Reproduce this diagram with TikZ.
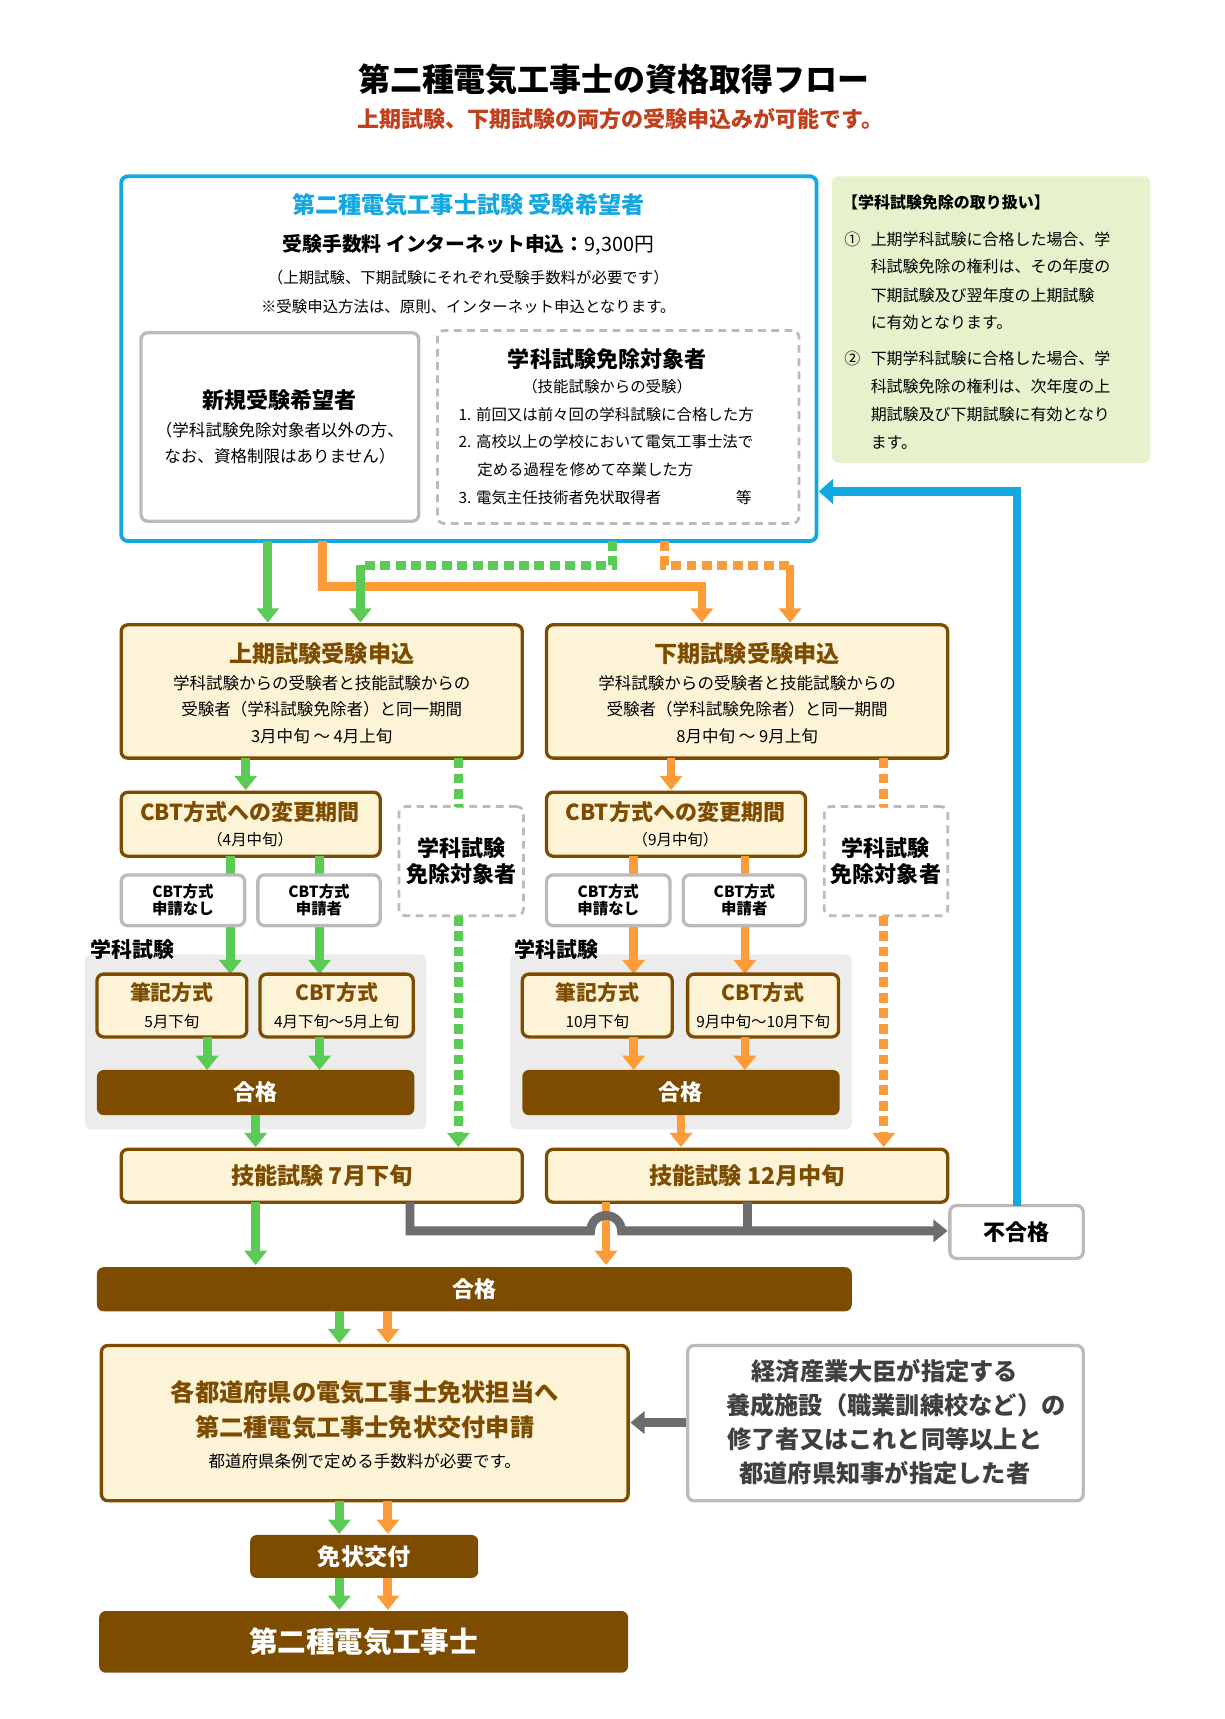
\documentclass[tikz,border=0pt]{standalone}
\usepackage{fontspec}
\setmainfont{Noto Sans CJK JP}
\usetikzlibrary{arrows.meta,fit,calc}
\definecolor{grn}{HTML}{5CCB55}
\definecolor{org}{HTML}{FB9C38}
\definecolor{brn}{HTML}{7E4C00}
\definecolor{crm}{HTML}{FDF4D8}
\definecolor{cyn}{HTML}{15A8E0}
\definecolor{redt}{HTML}{C0401E}
\definecolor{gry}{HTML}{BBBBBB}
\definecolor{dgry}{HTML}{6D6D6D}
\definecolor{lgrn}{HTML}{E5F2CC}
\definecolor{lgry}{HTML}{ECECEC}
\newcommand{\fs}[1]{\fontsize{#1}{#1}\selectfont}
\tikzset{
 fitbox/.style={inner sep=0pt, rounded corners=6pt},
 cbox/.style={fitbox, draw=brn, line width=3pt, fill=crm},
 gbox/.style={fitbox, draw=gry, line width=3pt, fill=white},
 dbox/.style={fitbox, draw=gry, line width=2.5pt, dash pattern=on 7pt off 5pt, fill=white},
 bbar/.style={fitbox, fill=brn},
 tx/.style={inner sep=0pt, anchor=center},
 ar/.style={line width=8pt, -{Triangle[width=20pt,length=13pt]}},
 ln/.style={line width=8pt},
 dt/.style={dash pattern=on 9pt off 5pt},
}
\begin{document}
\begin{tikzpicture}[x=1pt,y=-1pt]
\useasboundingbox (0,0) rectangle (1111,1560);
\fill[white] (0,0) rectangle (1111,1560);
% titles
\node[tx] (t1) at (557,72) {\fs{29}\bfseries 第二種電気工事士の資格取得フロー};
\node[tx,text=redt] (t2) at (563,108) {\fs{20}\bfseries 上期試験、下期試験の両方の受験申込みが可能です。};
% top blue box
\node[fitbox, draw=cyn, line width=3.5pt, fill=white, fit={(110,160)(741,491)}] (blue) {};
\node[tx,text=cyn] at (425,186) {\fs{21}\bfseries 第二種電気工事士試験 受験希望者};
\node[tx] at (425,222) {\fs{18}\bfseries 受験手数料 インターネット申込：\mdseries 9,300円};
\node[tx] at (425,252) {\fs{14}（上期試験、下期試験にそれぞれ受験手数料が必要です）};
\node[tx] at (425,278) {\fs{14}※受験申込方法は、原則、インターネット申込となります。};
\node[gbox, fit={(128,302)(380,473)}] (new) {};
\node[tx] at (254,363) {\fs{20}\bfseries 新規受験希望者};
\node[tx] at (254,390) {\fs{15}（学科試験免除対象者以外の方、};
\node[tx] at (254,414) {\fs{15}なお、資格制限はありません）};
\node[dbox, fit={(397,300)(725,475)}] (exm) {};
\node[tx] at (551,326) {\fs{20}\bfseries 学科試験免除対象者};
\node[tx] at (551,351) {\fs{14}（技能試験からの受験）};
\node[tx,anchor=west] at (416,376) {\fs{14}1. 前回又は前々回の学科試験に合格した方};
\node[tx,anchor=west] at (416,401) {\fs{14}2. 高校以上の学校において電気工事士法で};
\node[tx,anchor=west] at (433,426) {\fs{14}定める過程を修めて卒業した方};
\node[tx,anchor=west] at (416,452) {\fs{14}3. 電気主任技術者免状取得者};
\node[tx] at (675,452) {\fs{14}等};
% note
\node[fitbox, fill=lgrn, fit={(755,160)(1044,420)}] (note) {};
\begin{scope}[every node/.style={tx,anchor=west}]
\node at (764,184) {\fs{14.5}\bfseries 【学科試験免除の取り扱い】};
\node at (766,217) {\fs{14.5}①};
\node at (790,217) {\fs{14.5}上期学科試験に合格した場合、学};
\node at (790,242) {\fs{14.5}科試験免除の権利は、その年度の};
\node at (790,268) {\fs{14.5}下期試験及び翌年度の上期試験};
\node at (790,293) {\fs{14.5}に有効となります。};
\node at (766,325) {\fs{14.5}②};
\node at (790,325) {\fs{14.5}下期学科試験に合格した場合、学};
\node at (790,351) {\fs{14.5}科試験免除の権利は、次年度の上};
\node at (790,376) {\fs{14.5}期試験及び下期試験に有効となり};
\node at (790,402) {\fs{14.5}ます。};
\end{scope}
% application boxes
\node[cbox, fit={(110,567)(474,688)}] (ka) {};
\node[tx,text=brn] at (292,593) {\fs{21}\bfseries 上期試験受験申込};
\node[tx] at (292,620) {\fs{15}学科試験からの受験者と技能試験からの};
\node[tx] at (292,644) {\fs{15}受験者（学科試験免除者）と同一期間};
\node[tx] at (292,668) {\fs{15}3月中旬 〜 4月上旬};
\node[cbox, fit={(496,567)(860,688)}] (kb) {};
\node[tx,text=brn] at (678,593) {\fs{21}\bfseries 下期試験受験申込};
\node[tx] at (678,620) {\fs{15}学科試験からの受験者と技能試験からの};
\node[tx] at (678,644) {\fs{15}受験者（学科試験免除者）と同一期間};
\node[tx] at (678,668) {\fs{15}8月中旬 〜 9月上旬};
% grey regions
\node[fitbox, fill=lgry, fit={(77,866)(387,1025)}] (ra) {};
\node[fitbox, fill=lgry, fit={(463,866)(773,1025)}] (rb) {};
\node[tx,anchor=west] at (82,862) {\fs{19}\bfseries 学科試験};
\node[tx,anchor=west] at (467,862) {\fs{19}\bfseries 学科試験};
% CBT change
\node[cbox, fit={(110,719)(345,777)}] (ca) {};
\node[tx,text=brn] at (227,737) {\fs{20}\bfseries CBT方式への変更期間};
\node[tx] at (227,762) {\fs{14}（4月中旬）};
\node[cbox, fit={(496,719)(731,777)}] (cb) {};
\node[tx,text=brn] at (613,737) {\fs{20}\bfseries CBT方式への変更期間};
\node[tx] at (613,762) {\fs{14}（9月中旬）};
% lines through small boxes
\draw[ar,grn] (209,777) -- (209,884);
\draw[ar,grn] (290,777) -- (290,884);
\draw[ar,org] (575,777) -- (575,884);
\draw[ar,org] (676,777) -- (676,884);
\node[gbox, fit={(110,794)(222,840)}] (sa1) {};
\node[gbox, fit={(234,794)(345,840)}] (sa2) {};
\node[gbox, fit={(496,794)(608,840)}] (sb1) {};
\node[gbox, fit={(620,794)(731,840)}] (sb2) {};
\foreach \n/\t in {sa1/申請なし,sa2/申請者,sb1/申請なし,sb2/申請者}{
 \node[tx,align=center] at (\n) {\fs{14}\bfseries CBT方式\\[1pt]\fs{14}\bfseries \t};}
% exemption dashed boxes
\node[dbox, fit={(362,732)(475,831)}] (ea) {};
\node[tx,align=center] at (ea) {\fs{20}\bfseries 学科試験\\[4pt]\fs{20}\bfseries 免除対象者};
\node[dbox, fit={(748,732)(860,831)}] (eb) {};
\node[tx,align=center] at (eb) {\fs{20}\bfseries 学科試験\\[4pt]\fs{20}\bfseries 免除対象者};
% exam method boxes
\foreach \n/\a/\b/\ti/\d in {wa/88/224/筆記方式/5月下旬, xa/236/375/CBT方式/4月下旬〜5月上旬, wb/474/610/筆記方式/10月下旬, xb/624/761/CBT方式/9月中旬〜10月下旬}{
 \node[cbox, fit={(\a,884)(\b,941)}] (\n) {};
 \node[tx,text=brn] at ($(\n.north)!0.3!(\n.south)$) {\fs{19}\bfseries \ti};
 \node[tx] at ($(\n.north)!0.74!(\n.south)$) {\fs{14}\d};
}
\draw[ar,grn] (188,941) -- (188,971);
\draw[ar,grn] (290,941) -- (290,971);
\draw[ar,org] (575,941) -- (575,971);
\draw[ar,org] (676,941) -- (676,971);
\node[bbar, fit={(88,971)(376,1012)}] (pa) {};
\node[tx,text=white] at (pa) {\fs{20}\bfseries 合格};
\node[bbar, fit={(474,971)(762,1012)}] (pb) {};
\node[tx,text=white] at (pb) {\fs{20}\bfseries 合格};
% skill tests
\node[cbox, fit={(110,1043)(474,1091)}] (sa) {};
\node[tx,text=brn] at (sa) {\fs{21}\bfseries 技能試験 7月下旬};
\node[cbox, fit={(496,1043)(860,1091)}] (sb) {};
\node[tx,text=brn] at (sb) {\fs{21}\bfseries 技能試験 12月中旬};
\node[gbox, fit={(862,1094)(983,1142)}] (fail) {};
\node[tx] at (fail) {\fs{20}\bfseries 不合格};
% arrows upper
\draw[ar,grn] (243,491) -- (243,565);
\draw[ln,org] (293,491) -- (293,532) -- (637,532);
\draw[ar,org] (637,528) -- (637,565);
\draw[ln,grn,dt] (556,491) -- (556,513) -- (327,513);
\draw[ar,grn] (327,513) -- (327,565);
\draw[ln,org,dt] (603,491) -- (603,513) -- (717,513);
\draw[ar,org] (717,513) -- (717,565);
\draw[ar,grn] (223,688) -- (223,717);
\draw[ar,org] (609,688) -- (609,717);
\draw[ln,grn,dt] (416,688) -- (416,732);
\draw[ln,org,dt] (802,688) -- (802,732);
\draw[ar,grn,dt] (416,831) -- (416,1041);
\draw[ar,org,dt] (802,831) -- (802,1041);
\draw[ar,grn] (232,1012) -- (232,1041);
\draw[ar,org] (618,1012) -- (618,1041);
% big pass
\node[bbar, fit={(88,1150)(773,1190)}] (pass) {};
\node[tx,text=white] at (pass) {\fs{20}\bfseries 合格};
\draw[ar,grn] (232,1091) -- (232,1148);
\draw[ar,org] (550,1091) -- (550,1148);
\draw[ln,dgry] (678,1091) -- (678,1117);
\draw[ar,dgry] (372,1091) -- (372,1117) -- (536,1117) arc(180:360:14) -- (860,1117);
% feedback
\draw[line width=8pt,cyn,-{Triangle[width=22pt,length=13pt]}] (923,1094) -- (923,446) -- (743,446);
% license application
\node[cbox, fit={(92,1221)(570,1362)}] (app) {};
\node[tx,text=brn] at (331,1264) {\fs{22}\bfseries 各都道府県の電気工事士免状担当へ};
\node[tx,text=brn] at (331,1295) {\fs{22}\bfseries 第二種電気工事士免状交付申請};
\node[tx] at (331,1326) {\fs{15}都道府県条例で定める手数料が必要です。};
\node[gbox, fit={(624,1221)(983,1362)}] (trn) {};
\node[tx,text=black!75] at (803,1244) {\fs{22}\bfseries 経済産業大臣が指定する};
\node[tx,text=black!75] at (813,1275) {\fs{22}\bfseries 養成施設（職業訓練校など）の};
\node[tx,text=black!75] at (803,1306) {\fs{22}\bfseries 修了者又はこれと同等以上と};
\node[tx,text=black!75] at (803,1337) {\fs{22}\bfseries 都道府県知事が指定した者};
\draw[ar,dgry] (trn.west |- 0,1291) -- (572,1291);
\draw[ar,grn] (308,1190) -- (308,1219);
\draw[ar,org] (352,1190) -- (352,1219);
\node[bbar, fit={(227,1393)(434,1432)}] (iss) {};
\node[tx,text=white] at (iss) {\fs{21}\bfseries 免状交付};
\draw[ar,grn] (308,1362) -- (308,1392);
\draw[ar,org] (352,1362) -- (352,1392);
\draw[ar,grn] (308,1432) -- (308,1461);
\draw[ar,org] (352,1432) -- (352,1461);
\node[bbar, fit={(90,1462)(570,1518)}] (fin) {};
\node[tx,text=white] at (fin) {\fs{26}\bfseries 第二種電気工事士};
\end{tikzpicture}
\end{document}
